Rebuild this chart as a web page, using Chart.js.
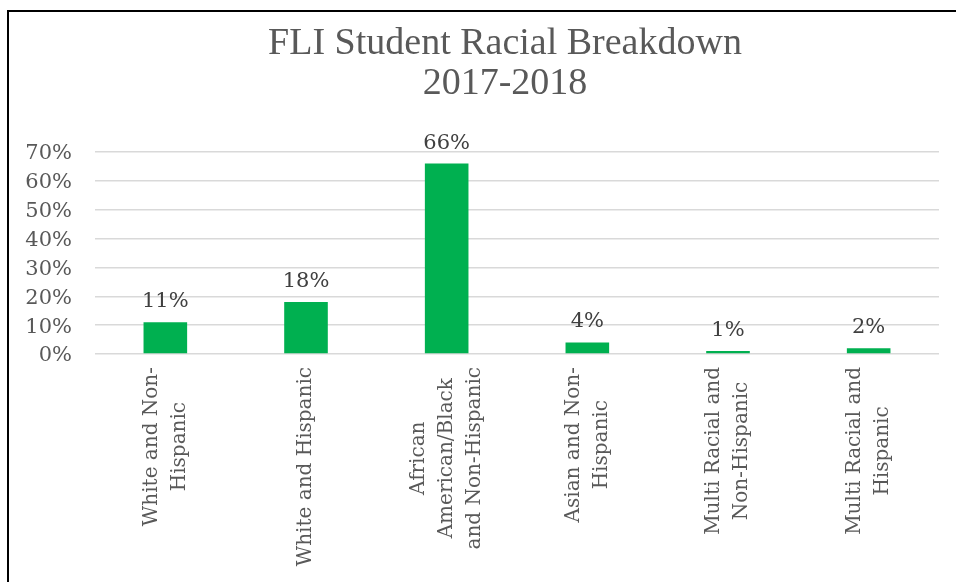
<!DOCTYPE html>
<html lang="en">
<head>
    <meta charset="UTF-8">
    <title>FLI Student Racial Breakdown</title>
    <script src="https://cdn.jsdelivr.net/npm/chart.js"></script>
    <style>
        html, body { margin: 0; padding: 0; background: #fff; overflow: hidden; }
        #wrap { position: relative; width: 956px; height: 582px; }
        #frame {
            position: absolute; left: 7px; top: 10px; width: 980px; height: 600px;
            border-left: 2px solid #000; border-top: 2px solid #000;
        }
        #chart { position: absolute; left: 0; top: 0; }
    </style>
</head>
<body>
<div id="wrap">
    <div id="frame"></div>
    <canvas id="chart" width="956" height="582"></canvas>
</div>

<script>
// categories (each entry = the lines of the rotated axis label)
const categories = [
    ['White and Non-', 'Hispanic'],
    ['White and Hispanic'],
    ['African', 'American/Black', 'and Non-Hispanic'],
    ['Asian and Non-', 'Hispanic'],
    ['Multi Racial and', 'Non-Hispanic'],
    ['Multi Racial and', 'Hispanic']
];
// share of students
const shares = [0.11, 0.18, 0.66, 0.04, 0.01, 0.02];
const titleLines = ['FLI Student Racial Breakdown', '2017-2018'];

const pct = v => Math.round(v * 100) + '%';

// the title sits a bit right of the plot centre in the original
const titleShift = {
    id: 'titleShift',
    afterLayout(chart) {
        const t = chart.titleBlock;
        if (t) { t.left = 71; t.width = t.right - t.left; }
    }
};

// value labels above each bar
const barLabels = {
    id: 'barLabels',
    afterDatasetsDraw(chart) {
        const ctx = chart.ctx;
        const meta = chart.getDatasetMeta(0);
        ctx.save();
        ctx.font = '21px "DejaVu Serif"';
        ctx.fillStyle = '#404040';
        ctx.textAlign = 'center';
        ctx.textBaseline = 'alphabetic';
        meta.data.forEach((bar, i) => {
            ctx.fillText(pct(chart.data.datasets[0].data[i]), bar.x, bar.y - 15);
        });
        ctx.restore();
    }
};

// rotated category labels, lines centred like the spreadsheet does it
const xLabels = {
    id: 'xLabels',
    afterDraw(chart) {
        const ctx = chart.ctx;
        const xs = chart.scales.x;
        const lineH = 28;
        ctx.save();
        ctx.font = '20px "DejaVu Serif"';
        ctx.fillStyle = '#595959';
        ctx.textAlign = 'center';
        ctx.textBaseline = 'middle';
        chart.data.labels.forEach((lines, i) => {
            const x = xs.getPixelForValue(i);
            const maxW = Math.max(...lines.map(l => ctx.measureText(l).width));
            const cy = xs.top + 13 + maxW / 2;
            ctx.save();
            ctx.translate(x, cy);
            ctx.rotate(-Math.PI / 2);
            lines.forEach((l, j) => {
                ctx.fillText(l, 0, (j - (lines.length - 1) / 2) * lineH);
            });
            ctx.restore();
        });
        ctx.restore();
    }
};

const ctx = document.getElementById('chart').getContext('2d');
new Chart(ctx, {
    type: 'bar',
    data: {
        labels: categories,
        datasets: [{
            data: shares,
            backgroundColor: '#00b050',
            borderWidth: 0,
            barPercentage: 0.31,
            categoryPercentage: 1
        }]
    },
    options: {
        responsive: false,
        devicePixelRatio: 1,
        animation: false,
        layout: { padding: { top: 0, left: 10, right: 17, bottom: 0 } },
        plugins: {
            legend: { display: false },
            tooltip: { enabled: false },
            title: {
                display: true,
                text: titleLines,
                color: '#595959',
                font: { family: '"Liberation Serif"', size: 38, weight: 'normal', lineHeight: 40 / 38 },
                padding: { top: 24, bottom: 48 }
            }
        },
        scales: {
            x: {
                grid: { display: false },
                border: { display: false },
                ticks: { display: false },
                afterFit(scale) { scale.height = 228; }
            },
            y: {
                min: 0,
                max: 0.7,
                border: { display: false },
                grid: { color: '#d9d9d9', lineWidth: 1.5, drawTicks: false },
                ticks: {
                    stepSize: 0.1,
                    padding: 23,
                    labelOffset: 2,
                    color: '#595959',
                    font: { family: '"DejaVu Serif"', size: 21 },
                    callback: v => pct(v)
                },
                afterFit(scale) { scale.width = 85; }
            }
        }
    },
    plugins: [titleShift, barLabels, xLabels]
});
</script>

</body>
</html>
